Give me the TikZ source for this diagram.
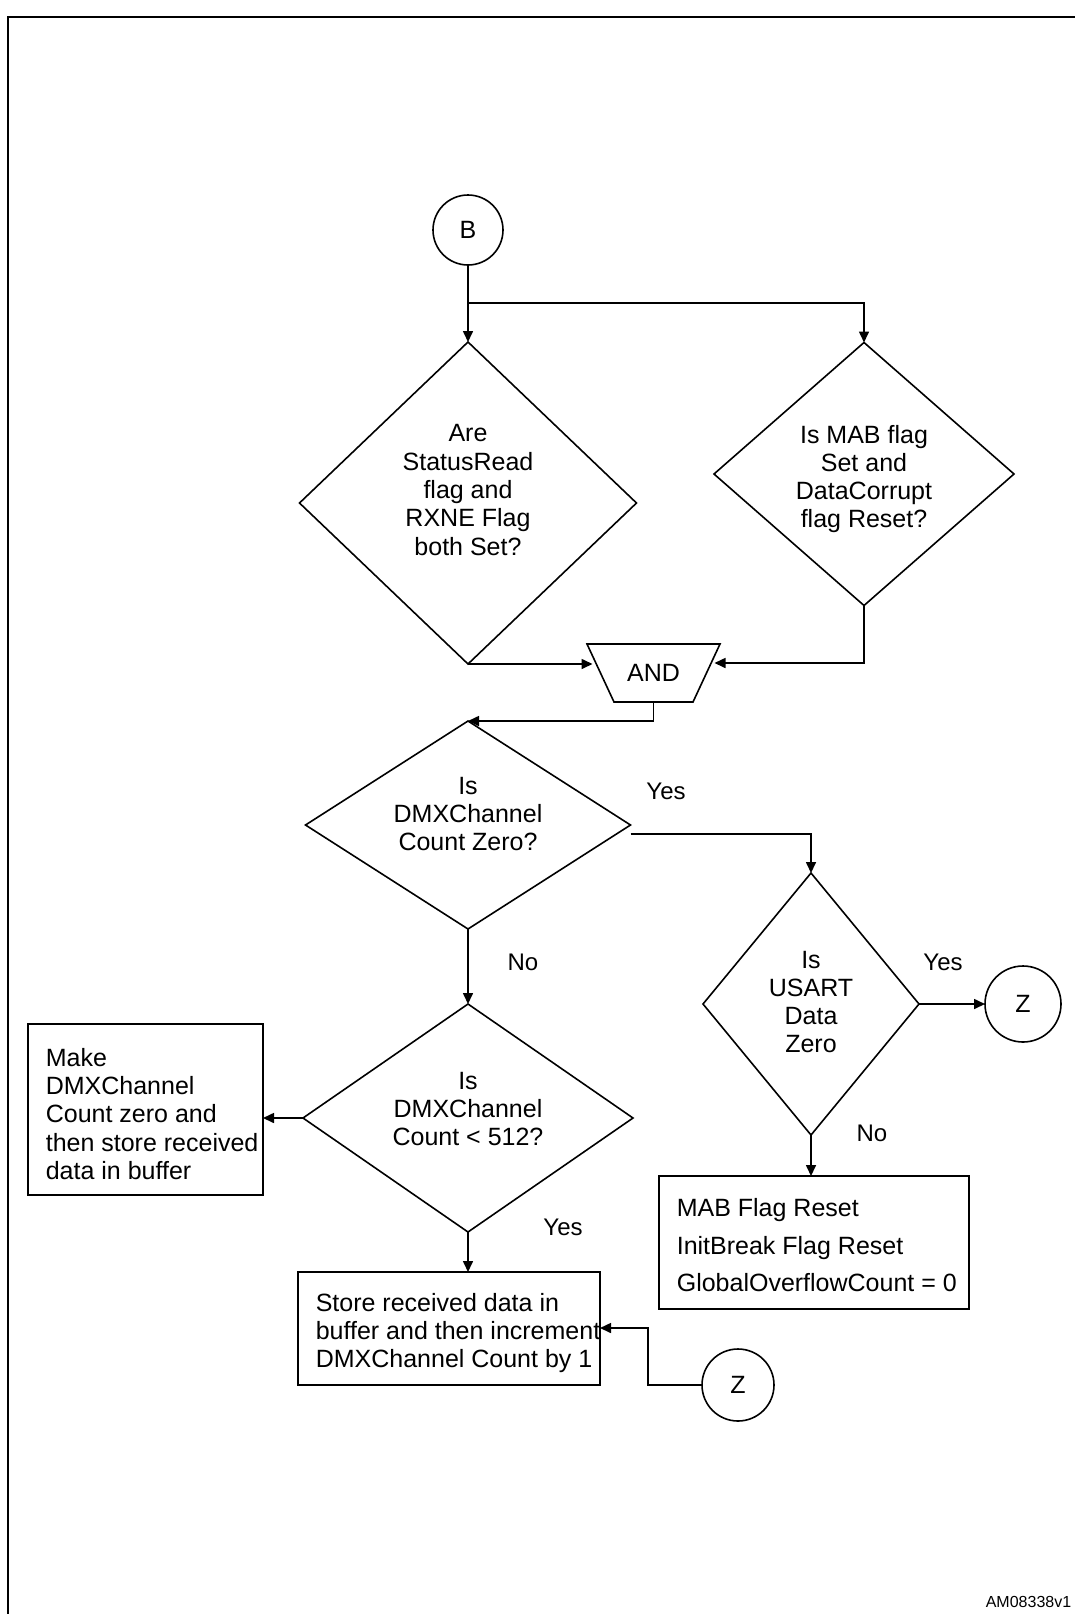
\documentclass[tikz,border=0pt]{standalone}
\usepackage{fontspec}
\setmainfont{Liberation Sans}
\usetikzlibrary{shapes.geometric,arrows.meta,calc}
\begin{document}
\begin{tikzpicture}[x=1pt,y=-1pt,
  line width=1.6pt,
  arr/.style={-{Triangle[length=11pt,width=10pt]}},
  txt/.style={font=\fontsize{25}{28.3}\selectfont, inner sep=0pt, align=center},
  lbl/.style={font=\fontsize{24}{28}\selectfont, inner sep=0pt},
  dia/.style={draw, diamond, inner sep=0pt, outer sep=0pt},
  box/.style={draw, rectangle, inner sep=0pt, outer sep=0pt},
  conn/.style={draw, circle, inner sep=0pt, outer sep=0pt, font=\fontsize{25}{28}\selectfont}
]
\useasboundingbox (0,0) rectangle (1074,1614);
% frame
\draw[line width=2.2pt] (7.7,1620) -- (7.7,17) -- (1080,17);

% nodes
\node[conn, minimum size=70] (b) at (468,230) {B};
\coordinate (split) at (468,303);

\node[dia, minimum width=337, minimum height=322] (d1) at (468,503) {};
\node[txt] (t1) at (468,490) {Are\\StatusRead\\flag and\\RXNE Flag\\both Set?};

\node[dia, minimum width=300, minimum height=263] (d2) at (864,474) {};
\node[txt] (t2) at (864,479) {Is MAB flag\\Set and\\DataCorrupt\\flag Reset?};

\node[rectangle, minimum width=133, minimum height=58, inner sep=0pt, outer sep=0pt,
      font=\fontsize{25}{28}\selectfont] (and) at (653.5,673) {AND};
\draw (and.north west) -- (and.north east) -- ($(and.south east)+(-27,0)$)
      -- ($(and.south west)+(27,0)$) -- cycle;

\node[dia, minimum width=325, minimum height=208] (d3) at (468,825) {};
\node[txt] (t3) at (468,814) {Is\\DMXChannel\\Count Zero?};

\node[dia, minimum width=216, minimum height=262] (d4) at (811,1004) {};
\node[txt] (t4) at (811,1002) {Is\\USART\\Data\\Zero};

\node[conn, minimum size=76] (zr) at (1023,1004) {Z};

\node[box, minimum width=310, minimum height=133] (mab) at (814,1242.5) {};
\node[font=\fontsize{25}{37.5}\selectfont, inner sep=0pt, align=left, anchor=west] (tmab) at (676,1245.5)
  {MAB Flag Reset\\InitBreak Flag Reset\\GlobalOverflowCount = 0};

\node[dia, minimum width=330, minimum height=228] (d5) at (468,1118) {};
\node[txt] (t5) at (468,1109) {Is\\DMXChannel\\Count < 512?};

\node[box, minimum width=235, minimum height=171] (make) at (145.5,1109.5) {};
\node[txt, align=left, anchor=west] (tmake) at (45,1114)
  {Make\\DMXChannel\\Count zero and\\then store received\\data in buffer};

\node[box, minimum width=302, minimum height=113] (store) at (449,1328.5) {};
\node[txt, align=left, anchor=west] (tstore) at (315,1333)
  {Store received data in\\buffer and then increment\\DMXChannel Count by 1};

\node[conn, minimum size=72] (zb) at (738,1385) {Z};
\coordinate (bend) at (648,1328);

% connectors
\draw[arr] (b.south) -- (d1.north);
\draw[arr] (split) -| (d2.north);
\draw[arr] (d1.south) -- ($(d1.south -| and.center)+(-61,0)$);
\draw[arr] (d2.south) |- ($(and.center)+(61,-10)$);
\draw[arr] (and.south) |- (d3.north);
\draw[arr] ($(d3.east)+(0,9)$) -| (d4.north);
\draw[arr] (d4.east) -- (zr.west);
\draw[arr] (d4.south) -- (d4.south |- mab.north);
\draw[arr] (d3.south) -- (d5.north);
\draw[arr] (d5.west) -- (d5.west -| make.east);
\draw[arr] (d5.south) -- (d5.south |- store.north);
\draw[arr] (zb.west) -| (bend) -- (bend -| store.east);

% labels
\node[lbl] (y1) at (666,791) {Yes};
\node[lbl] (y2) at (943,962) {Yes};
\node[lbl] (n1) at (872,1133) {No};
\node[lbl] (n2) at (523,962) {No};
\node[lbl] (y3) at (563,1227) {Yes};

\node[font=\fontsize{16}{18}\selectfont, inner sep=0pt, anchor=base east] (id) at (1072,1607) {AM08338v1};
\end{tikzpicture}
\end{document}
